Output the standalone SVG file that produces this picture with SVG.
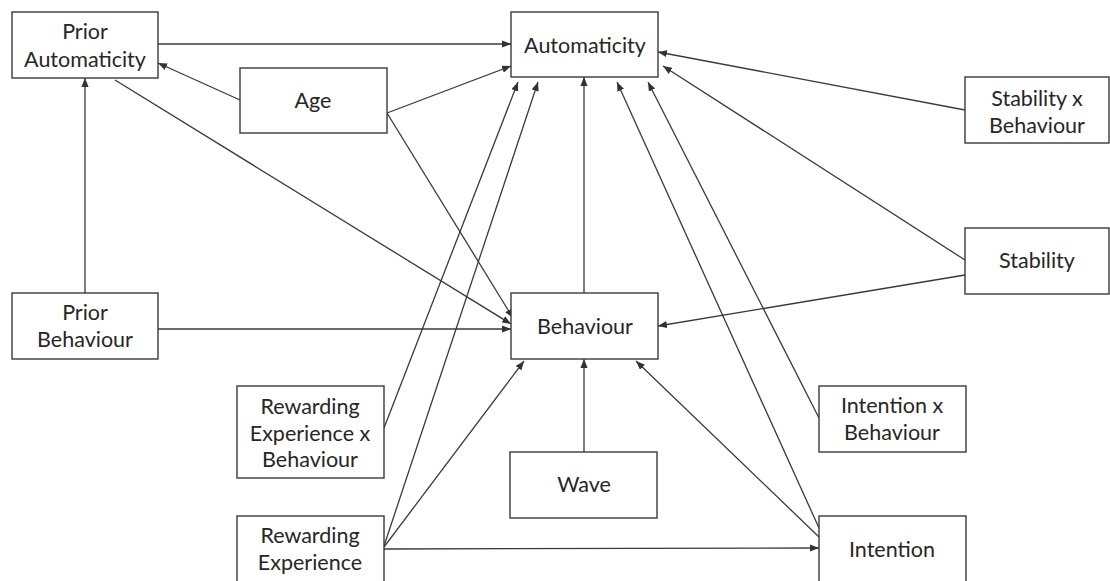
<svg xmlns="http://www.w3.org/2000/svg" width="1110" height="581" viewBox="0 0 1110 581">
  <defs>
    <marker id="arrow" viewBox="0 0 10 8" refX="10" refY="4" markerWidth="9" markerHeight="7.2" markerUnits="userSpaceOnUse" orient="auto">
      <path d="M0,0 L10,4 L0,8 Z" fill="#333"/>
    </marker>
    <style>
      .box { fill: #fff; stroke: #3a3a3a; stroke-width: 1.4; }
      .lbl { font-family: Lato, "Open Sans", "Liberation Sans", sans-serif; font-size: 21.5px; fill: #262626; text-anchor: middle; }
      .edge { stroke: #3a3a3a; stroke-width: 1.3; fill: none; marker-end: url(#arrow); }
    </style>
  </defs>
  <rect width="1110" height="581" fill="#fff"/>

  <!-- connectors -->
  <g id="connectors">
    <line class="edge" x1="158" y1="44" x2="511" y2="44"/>
    <line class="edge" x1="240" y1="100" x2="158" y2="63"/>
    <line class="edge" x1="387" y1="113" x2="511" y2="66"/>
    <line class="edge" x1="387" y1="113" x2="513" y2="318"/>
    <line class="edge" x1="115" y1="80" x2="511" y2="324"/>
    <line class="edge" x1="85" y1="293" x2="85" y2="78"/>
    <line class="edge" x1="158" y1="329" x2="511" y2="329"/>
    <line class="edge" x1="384" y1="428" x2="518" y2="82"/>
    <line class="edge" x1="384" y1="546" x2="538" y2="82"/>
    <line class="edge" x1="384" y1="547" x2="524" y2="361"/>
    <line class="edge" x1="384" y1="549" x2="819" y2="548"/>
    <line class="edge" x1="584" y1="293" x2="584" y2="77"/>
    <line class="edge" x1="584" y1="452" x2="584" y2="359"/>
    <line class="edge" x1="819" y1="537" x2="636" y2="361"/>
    <line class="edge" x1="819" y1="528" x2="617" y2="82"/>
    <line class="edge" x1="819" y1="418" x2="648" y2="82"/>
    <line class="edge" x1="965" y1="110" x2="658" y2="52"/>
    <line class="edge" x1="965" y1="260" x2="663" y2="66"/>
    <line class="edge" x1="965" y1="275" x2="658" y2="326"/>
  </g>

  <g id="prior-automaticity">
    <rect class="box" x="12" y="12" width="146" height="66"/>
    <text class="lbl" x="85" y="39">Prior</text>
    <text class="lbl" x="85" y="67">Automaticity</text>
  </g>
  <g id="age">
    <rect class="box" x="240" y="68" width="147" height="65"/>
    <text class="lbl" x="313" y="108">Age</text>
  </g>
  <g id="automaticity">
    <rect class="box" x="511" y="12" width="147" height="65"/>
    <text class="lbl" x="585" y="53">Automaticity</text>
  </g>
  <g id="stability-x-behaviour">
    <rect class="box" x="965" y="77" width="144" height="66"/>
    <text class="lbl" x="1037" y="106">Stability x</text>
    <text class="lbl" x="1037" y="133">Behaviour</text>
  </g>
  <g id="stability">
    <rect class="box" x="965" y="228" width="144" height="66"/>
    <text class="lbl" x="1037" y="268">Stability</text>
  </g>
  <g id="prior-behaviour">
    <rect class="box" x="12" y="293" width="146" height="66"/>
    <text class="lbl" x="85" y="320">Prior</text>
    <text class="lbl" x="85" y="347">Behaviour</text>
  </g>
  <g id="behaviour">
    <rect class="box" x="511" y="293" width="147" height="66"/>
    <text class="lbl" x="585" y="334">Behaviour</text>
  </g>
  <g id="rewarding-experience-x-behaviour">
    <rect class="box" x="237" y="386" width="147" height="92"/>
    <text class="lbl" x="310" y="414">Rewarding</text>
    <text class="lbl" x="310" y="441">Experience x</text>
    <text class="lbl" x="310" y="467">Behaviour</text>
  </g>
  <g id="wave">
    <rect class="box" x="510" y="452" width="147" height="66"/>
    <text class="lbl" x="584" y="492">Wave</text>
  </g>
  <g id="intention-x-behaviour">
    <rect class="box" x="819" y="386" width="147" height="66"/>
    <text class="lbl" x="892" y="413">Intention x</text>
    <text class="lbl" x="892" y="440">Behaviour</text>
  </g>
  <g id="rewarding-experience">
    <rect class="box" x="237" y="516" width="147" height="68"/>
    <text class="lbl" x="310" y="543">Rewarding</text>
    <text class="lbl" x="310" y="570">Experience</text>
  </g>
  <g id="intention">
    <rect class="box" x="819" y="516" width="147" height="68"/>
    <text class="lbl" x="892" y="557">Intention</text>
  </g>
</svg>
